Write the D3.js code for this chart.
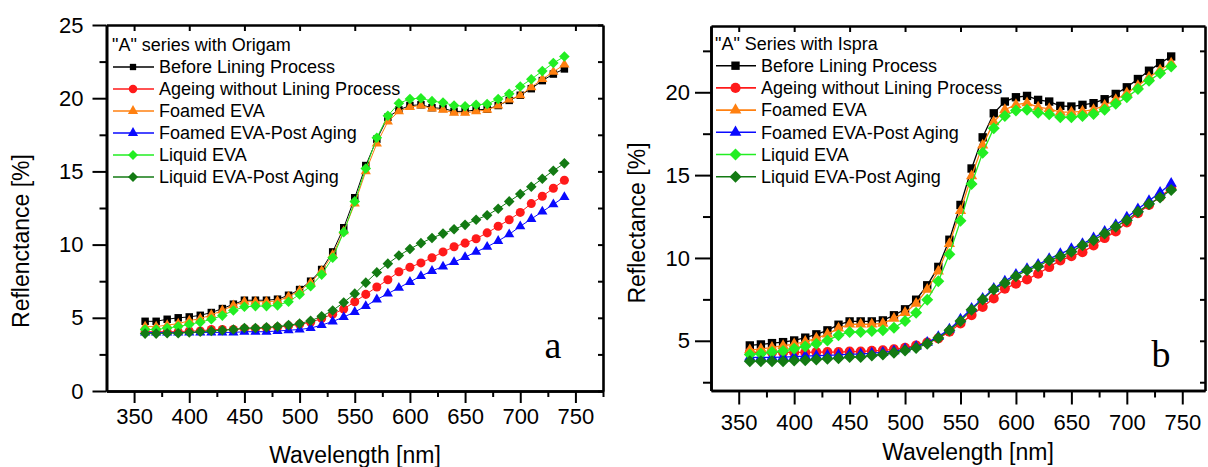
<!DOCTYPE html>
<html>
<head>
<meta charset="utf-8">
<script src="https://cdn.jsdelivr.net/npm/d3@7"></script>
<style>
  body { margin: 0; background: #fff; }
  svg { display: block; font-family: "Liberation Sans", Arial, sans-serif; }
</style>
</head>
<body>
<div class="chart"></div>
<script>
// wavelengths (nm) shared by every series
var wavelengths = [360,370,380,390,400,410,420,430,440,450,460,470,480,490,500,510,520,530,540,550,
                   560,570,580,590,600,610,620,630,640,650,660,670,680,690,700,710,720,730,740];

var xTicks = [350,400,450,500,550,600,650,700,750];
var aYTicks = [0,5,10,15,20,25];
var bYTicks = [5,10,15,20];

var seriesNames = ["Before Lining Process","Ageing without Lining Process","Foamed EVA",
                   "Foamed EVA-Post Aging","Liquid EVA","Liquid EVA-Post Aging"];
var aTitle = '"A" series with Origam';
var bTitle = '"A" Series with Ispra';

// panel a : Origam
var aBefore = [4.76,4.76,4.9,5.0,5.06,5.17,5.36,5.63,5.93,6.2,6.2,6.2,6.27,6.54,6.93,7.5,8.3,9.5,11.15,13.2,
               15.4,17.2,18.7,19.2,19.5,19.55,19.35,19.3,19.1,19.1,19.2,19.25,19.5,19.85,20.2,20.65,21.2,21.65,22.0];
var aAgeing = [4.05,4.05,4.05,4.05,4.1,4.1,4.2,4.2,4.2,4.25,4.25,4.3,4.35,4.45,4.55,4.7,4.95,5.25,5.6,6.1,
               6.6,7.1,7.6,8.15,8.45,8.75,9.1,9.5,9.85,10.1,10.4,10.8,11.25,11.7,12.2,12.8,13.3,13.85,14.4];
var aFoamed = [4.4,4.4,4.5,4.6,4.8,4.95,5.2,5.5,5.85,6.1,6.1,6.1,6.15,6.45,6.85,7.4,8.2,9.3,10.9,12.8,
               15.0,16.9,18.4,19.1,19.4,19.5,19.3,19.2,19.0,19.0,19.1,19.2,19.5,19.9,20.2,20.75,21.3,21.8,22.3];
var aFoamedPost = [4.0,4.0,4.0,4.0,4.0,4.0,4.0,4.0,4.0,4.05,4.05,4.05,4.1,4.15,4.2,4.3,4.5,4.75,5.05,5.4,
                   5.8,6.25,6.65,7.05,7.45,7.85,8.2,8.5,8.8,9.15,9.5,9.85,10.25,10.7,11.25,11.75,12.25,12.75,13.25];
var aLiquid = [4.2,4.2,4.3,4.4,4.55,4.7,4.9,5.15,5.5,5.75,5.8,5.8,5.85,6.1,6.6,7.15,7.95,9.1,10.85,12.95,
               15.2,17.3,18.8,19.65,19.95,20.0,19.8,19.7,19.5,19.45,19.55,19.6,19.95,20.3,20.8,21.3,21.85,22.4,22.85];
var aLiquidPost = [3.92,3.92,3.95,3.95,4.0,4.05,4.1,4.15,4.2,4.3,4.3,4.35,4.4,4.5,4.6,4.8,5.1,5.5,6.05,6.65,
                   7.4,8.1,8.7,9.25,9.7,10.1,10.45,10.75,11.05,11.35,11.7,12.0,12.45,12.95,13.45,13.95,14.5,15.05,15.55];

// panel b : Ispra
var bBefore = [4.72,4.78,4.86,4.92,5.02,5.19,5.39,5.63,5.97,6.17,6.17,6.17,6.23,6.54,6.9,7.48,8.35,9.46,11.1,13.2,
               15.4,17.28,18.73,19.44,19.7,19.78,19.54,19.44,19.18,19.14,19.24,19.34,19.58,19.9,20.3,20.8,21.3,21.76,22.16];
var bAgeing = [4.3,4.3,4.3,4.3,4.3,4.3,4.32,4.32,4.32,4.35,4.35,4.4,4.42,4.48,4.58,4.72,4.9,5.15,5.55,6.05,
               6.55,7.05,7.55,8.15,8.45,8.7,9.05,9.45,9.85,10.1,10.35,10.75,11.2,11.6,12.15,12.7,13.2,13.7,14.2];
var bFoamed = [4.45,4.5,4.6,4.7,4.8,4.95,5.15,5.4,5.75,6.0,6.0,6.0,6.05,6.35,6.7,7.25,8.1,9.2,10.85,12.85,
               14.95,16.8,18.2,18.95,19.25,19.35,19.1,19.0,18.8,18.8,18.85,18.95,19.2,19.55,19.95,20.4,20.9,21.35,21.75];
var bFoamedPost = [4.0,4.0,4.0,4.02,4.05,4.08,4.1,4.12,4.15,4.2,4.2,4.25,4.3,4.38,4.5,4.65,4.9,5.25,5.7,6.3,
                   6.95,7.55,8.15,8.6,9.0,9.35,9.6,9.95,10.25,10.55,10.85,11.2,11.6,12.0,12.45,12.95,13.45,13.95,14.5];
var bLiquid = [4.18,4.22,4.32,4.38,4.52,4.66,4.82,5.02,5.33,5.53,5.53,5.59,5.63,5.79,6.19,6.7,7.48,8.59,10.23,12.24,
               14.46,16.35,17.83,18.57,18.9,18.94,18.77,18.67,18.49,18.49,18.57,18.69,18.94,19.3,19.7,20.19,20.69,21.15,21.56];
var bLiquidPost = [3.77,3.77,3.77,3.77,3.81,3.83,3.87,3.92,3.94,4.02,4.02,4.12,4.18,4.28,4.42,4.56,4.82,5.17,5.63,6.19,
                   6.88,7.5,8.09,8.49,8.9,9.26,9.5,9.86,10.1,10.37,10.77,11.07,11.48,11.88,12.28,12.79,13.25,13.65,14.1];

var colors = ["#000000","#ff1a1a","#ff8010","#0a0aff","#22ee22","#137a13"];

// Origin style diamond (square rotated 45deg)
var symbolDiamond45 = {
  draw: function(context, size) {
    var r = Math.sqrt(size / 2);
    context.moveTo(0, -r);
    context.lineTo(r, 0);
    context.lineTo(0, r);
    context.lineTo(-r, 0);
    context.closePath();
  }
};
var symbols = [d3.symbolSquare, d3.symbolCircle, d3.symbolTriangle, d3.symbolTriangle, symbolDiamond45, symbolDiamond45];

var svg = d3.select(".chart").append("svg")
    .attr("width", 1208)
    .attr("height", 467);

function drawPanel(p) {
  var x = d3.scaleLinear().domain(p.xDomain).range(p.xRange);
  var y = d3.scaleLinear().domain(p.yDomain).range(p.yRange);
  var g = svg.append("g");

  var xMinor = d3.range(p.xDomain[0], p.xDomain[1] + 0.1, 25).filter(v => xTicks.indexOf(v) < 0 && v > p.xDomain[0]);
  var yMinor = d3.range(0, 25.1, 2.5).filter(v => v % 5 != 0 && v > p.yDomain[0] && v < p.yDomain[1]);

  // bottom axis
  g.append("g").attr("transform", "translate(0," + p.yRange[0] + ")")
    .call(d3.axisBottom(x).tickValues(xMinor).tickSize(p.minor).tickFormat("").tickSizeOuter(0));
  g.append("g").attr("class", "xmaj").attr("transform", "translate(0," + p.yRange[0] + ")")
    .call(d3.axisBottom(x).tickValues(xTicks).tickSize(p.major).tickPadding(p.xPad).tickSizeOuter(0));
  // left axis
  g.append("g").attr("transform", "translate(" + p.xRange[0] + ",0)")
    .call(d3.axisLeft(y).tickValues(yMinor).tickSize(p.minor + 1).tickFormat("").tickSizeOuter(0));
  g.append("g").attr("transform", "translate(" + p.xRange[0] + ",0)")
    .call(d3.axisLeft(y).tickValues(p.yTicks).tickSize(p.major + 2).tickPadding(p.yPad).tickSizeOuter(0));
  // top and right (mirror, inward ticks)
  g.append("g").attr("transform", "translate(0," + p.yRange[1] + ")")
    .call(d3.axisTop(x).tickValues(xTicks).tickSize(-6).tickFormat("").tickSizeOuter(0));
  g.append("g").attr("transform", "translate(" + p.xRange[1] + ",0)")
    .call(d3.axisRight(y).tickValues(p.yTicks.concat(yMinor)).tickSize(-5).tickFormat("").tickSizeOuter(0));

  g.selectAll(".domain").attr("stroke", "#000").attr("stroke-width", 2.6);
  g.selectAll(".tick line").attr("stroke", "#000").attr("stroke-width", 2);
  g.selectAll(".tick text").attr("fill", "#000").style("font-size", p.tickFont + "px")
    .style("font-family", '"Liberation Sans", Arial, sans-serif');

  // axis titles
  g.append("text")
    .attr("x", p.xTitle[0]).attr("y", p.xTitle[1])
    .style("text-anchor", "middle").style("font-size", "23px")
    .text("Wavelength [nm]");
  g.append("text")
    .attr("transform", "translate(" + p.yTitle[0] + "," + p.yTitle[1] + ") rotate(-90)")
    .style("text-anchor", "middle").style("font-size", "23px")
    .text(p.yLabel);

  // series lines then markers, in plotting order
  p.series.forEach((vals, i) => {
    var pts = wavelengths.map((w, j) => [w, vals[j]]);
    g.append("path")
      .datum(pts)
      .attr("fill", "none")
      .attr("stroke", colors[i])
      .attr("stroke-width", p.lineW)
      .attr("d", d3.line().x(d => x(d[0])).y(d => y(d[1])));
    g.append("g").selectAll("path")
      .data(pts)
      .join("path")
      .attr("transform", d => "translate(" + x(d[0]) + "," + y(d[1]) + ")")
      .attr("d", d3.symbol().type(symbols[i]).size(p.sizes[i]))
      .attr("fill", colors[i]);
  });

  // legend
  var lg = g.append("g");
  lg.append("text")
    .attr("x", p.legend[0]).attr("y", p.legend[1])
    .attr("dy", "0.35em")
    .style("font-size", "18px")
    .text(p.title);
  seriesNames.forEach((name, i) => {
    var ly = p.legend[1] + p.legendStep * (i + 1);
    lg.append("line")
      .attr("x1", p.legend[0] + 1).attr("x2", p.legend[0] + p.legendLine)
      .attr("y1", ly).attr("y2", ly)
      .attr("stroke", colors[i]).attr("stroke-width", p.lineW + 0.3);
    lg.append("path")
      .attr("transform", "translate(" + (p.legend[0] + p.legendLine / 2) + "," + ly + ")")
      .attr("d", d3.symbol().type(symbols[i]).size(p.legendSizes[i]))
      .attr("fill", colors[i]);
    lg.append("text")
      .attr("x", p.legend[0] + p.legendLine + 5).attr("y", ly)
      .attr("dy", "0.35em")
      .style("font-size", "18px")
      .text(name);
  });

  // panel letter
  g.append("text")
    .attr("x", p.letterPos[0]).attr("y", p.letterPos[1])
    .style("text-anchor", "middle")
    .style("font-family", '"Liberation Serif", "DejaVu Serif", serif')
    .style("font-size", "38px")
    .text(p.letter);
}

drawPanel({
  xDomain: [325, 775], xRange: [106.5, 603],
  yDomain: [0, 25], yRange: [391, 25],
  yTicks: aYTicks, major: 12, minor: 6, xPad: 5, yPad: 9, tickFont: 22,
  xTitle: [355, 463], yTitle: [29, 241], yLabel: "Reflenctance [%]",
  series: [aBefore, aAgeing, aFoamed, aFoamedPost, aLiquid, aLiquidPost],
  sizes: [56, 64, 45, 45, 56, 56], legendSizes: [40, 56, 45, 45, 50, 50], lineW: 1,
  legend: [112, 45], legendStep: 22, legendLine: 42, title: aTitle,
  letter: "a", letterPos: [553, 358]
});

drawPanel({
  xDomain: [325, 770.5], xRange: [711, 1205],
  yDomain: [2, 24], yRange: [390.5, 26],
  yTicks: bYTicks, major: 14, minor: 7, xPad: 10, yPad: 5, tickFont: 22,
  xTitle: [968, 460], yTitle: [645, 223], yLabel: "Reflectance [%]",
  series: [bBefore, bAgeing, bFoamed, bFoamedPost, bLiquid, bLiquidPost],
  sizes: [70, 80, 55, 55, 72, 72], legendSizes: [70, 80, 60, 60, 72, 72], lineW: 1.3,
  legend: [715, 43.5], legendStep: 22.2, legendLine: 41, title: bTitle,
  letter: "b", letterPos: [1161, 367]
});
</script>
</body>
</html>
